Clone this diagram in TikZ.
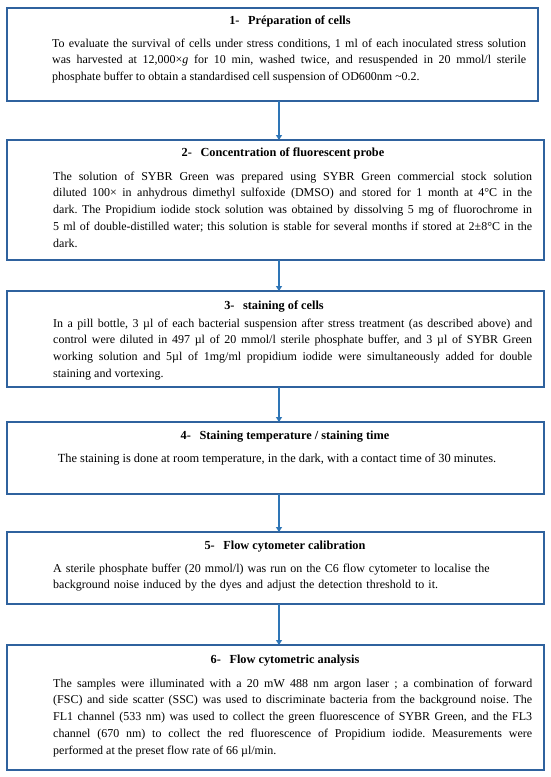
\documentclass[tikz,border=0pt]{standalone}
\usepackage{fontspec}
\setmainfont{Liberation Serif}
\usetikzlibrary{arrows.meta}
\definecolor{boxblue}{RGB}{47,98,158}
\definecolor{arrblue}{RGB}{46,117,182}
\frenchspacing
\begin{document}
\begin{tikzpicture}[x=1pt,y=-1pt,
  box/.style={draw=boxblue,line width=1.6pt,inner sep=0pt,outer sep=0pt,anchor=north west},
  ttl/.style={anchor=base,inner sep=0pt,font=\bfseries\fontsize{12.3}{14}\selectfont},
  body/.style={anchor=base west,inner sep=0pt,text width=479pt,align=justify,font=\fontsize{12}{16.9}\selectfont},
  arr/.style={draw=arrblue,line width=1.5pt,-{Triangle[length=5pt,width=6pt]}}]
\useasboundingbox (0,0) rectangle (550,777);
% boxes
\node[box,minimum width=531pt,minimum height=93pt] (b1) at (7,8) {};
\node[box,minimum width=537pt,minimum height=120pt] (b2) at (7,140) {};
\node[box,minimum width=537pt,minimum height=96pt] (b3) at (7,291) {};
\node[box,minimum width=537pt,minimum height=72pt] (b4) at (7,422) {};
\node[box,minimum width=537pt,minimum height=72pt] (b5) at (7,532) {};
\node[box,minimum width=537pt,minimum height=125pt] (b6) at (7,645) {};
% titles
\node[ttl] (t1) at (290,24) {1-\hspace{0.7em}Préparation of cells};
\node[ttl] (t2) at (283,156) {2-\hspace{0.7em}Concentration of fluorescent probe};
\node[ttl] (t3) at (274,309) {3-\hspace{0.7em}staining of cells};
\node[ttl] (t4) at (285,439) {4-\hspace{0.7em}Staining temperature / staining time};
\node[ttl] (t5) at (285,549) {5-\hspace{0.7em}Flow cytometer calibration};
\node[ttl] (t6) at (285,663) {6-\hspace{0.7em}Flow cytometric analysis};
% bodies
\node[body,text width=474pt] (x1) at (52,47) {To evaluate the survival of cells under stress conditions, 1 ml of each inoculated stress solution\linebreak was harvested at 12,000×\textit{g} for 10 min, washed twice, and resuspended in 20 mmol/l sterile\linebreak phosphate buffer to obtain a standardised cell suspension of OD600nm \textasciitilde0.2.};
\node[body] (x2) at (53,180) {The solution of SYBR Green was prepared using SYBR Green commercial stock solution\linebreak diluted 100× in anhydrous dimethyl sulfoxide (DMSO) and stored for 1 month at 4°C in the\linebreak dark. The Propidium iodide stock solution was obtained by dissolving 5 mg of fluorochrome in\linebreak 5 ml of double-distilled water; this solution is stable for several months if stored at 2±8°C in the\linebreak dark.};
\node[body] (x3) at (53,327) {In a pill bottle, 3 µl of each bacterial suspension after stress treatment (as described above) and\linebreak control were diluted in 497 µl of 20 mmol/l sterile phosphate buffer, and 3 µl of SYBR Green\linebreak working solution and 5µl of 1mg/ml propidium iodide were simultaneously added for double\linebreak staining and vortexing.};
\node[anchor=base,inner sep=0pt,font=\fontsize{12.4}{16.9}\selectfont] (x4) at (277,462) {The staining is done at room temperature, in the dark, with a contact time of 30 minutes.};
\node[body,align=left] (x5) at (53,572) {A sterile phosphate buffer (20 mmol/l) was run on the C6 flow cytometer to localise the\\ background noise induced by the dyes and adjust the detection threshold to it.};
\node[body] (x6) at (53,687) {The samples were illuminated with a 20 mW 488 nm argon laser ; a combination of forward\linebreak (FSC) and side scatter (SSC) was used to discriminate bacteria from the background noise. The\linebreak FL1 channel (533 nm) was used to collect the green fluorescence of SYBR Green, and the FL3\linebreak channel (670 nm) to collect the red fluorescence of Propidium iodide. Measurements were\linebreak performed at the preset flow rate of 66 µl/min.};
% arrows
\coordinate (ax) at (279,0);
\draw[arr] (b1.south -| ax) -- (b2.north -| ax);
\draw[arr] (b2.south -| ax) -- (b3.north -| ax);
\draw[arr] (b3.south -| ax) -- (b4.north -| ax);
\draw[arr] (b4.south -| ax) -- (b5.north -| ax);
\draw[arr] (b5.south -| ax) -- (b6.north -| ax);
\end{tikzpicture}
\end{document}
